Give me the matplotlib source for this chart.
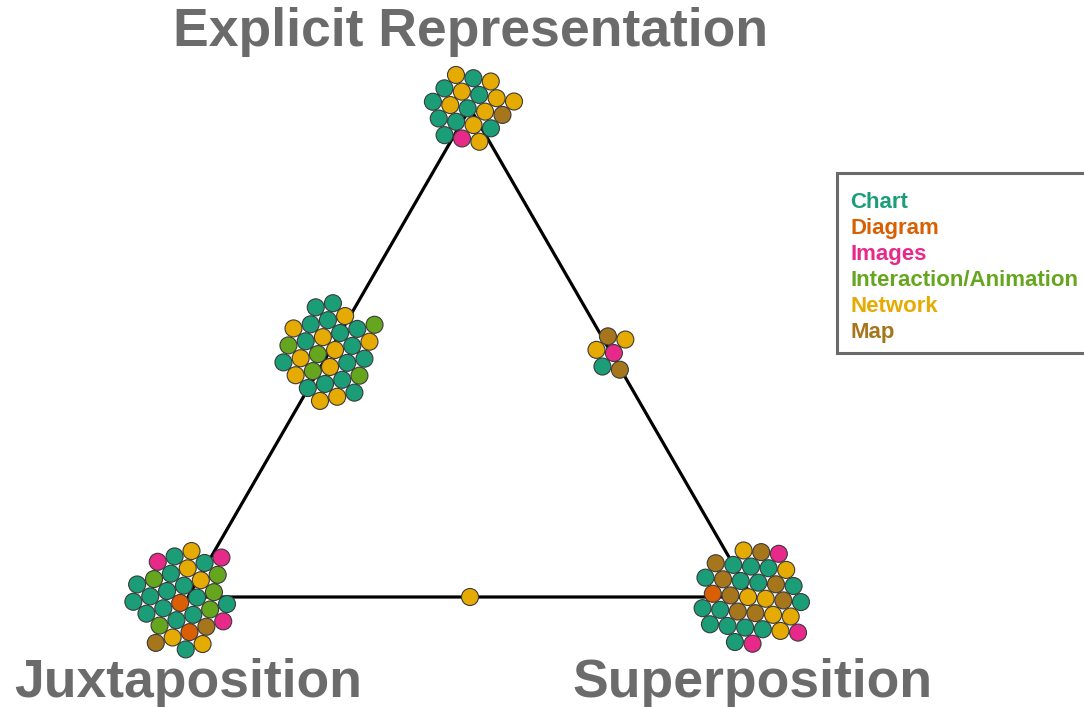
import numpy as np
import matplotlib
matplotlib.use("Agg")
import matplotlib.pyplot as plt
from matplotlib.patches import Circle, Rectangle

# ---------------- data ----------------
categories = ["Chart", "Diagram", "Images", "Interaction/Animation", "Network", "Map"]
codes = ["C", "D", "I", "A", "N", "M"]
colors = ["#1b9e77", "#d95f02", "#e7298a", "#66a61e", "#e6ab02", "#a6761d"]

corner_labels = ["Explicit Representation", "Juxtaposition", "Superposition"]

# papers per position, row by row (category codes)
explicit_rows = ["NCN", "CNCNN", "CNCNM", "CCNC", "CIN"]
explicit_juxta_rows = ["CC", "NCCN", "ACNCCA", "CNANCN", "NANCC", "CCCA", "NNC"]
explicit_super_rows = ["MN", "NI", "CM"]
juxta_super_rows = ["N"]
juxta_rows = ["ICN", "CACNCI", "CCCCNA", "CCDCA", "ACCAC", "MNDMI", "CN"]
super_rows = ["NMI", "MCCCN", "CMCCMC", "DMNNMC", "CCMMNN", "CCCCNI", "CI"]

# ---------------- layout ----------------
W, H = 1084, 707
fig = plt.figure(figsize=(W / 100, H / 100), dpi=100)
ax = fig.add_axes([0, 0, 1, 1])
ax.set_xlim(0, W)
ax.set_ylim(H, 0)
ax.axis("off")

V_top = np.array([470.0, 108.0])
V_left = np.array([188.0, 597.0])
V_right = np.array([752.0, 597.0])

tri = np.array([V_top, V_left, V_right, V_top])
ax.plot(tri[:, 0], tri[:, 1], color="black", lw=2.3, zorder=1, solid_capstyle="round")

cmap = dict(zip(codes, colors))
D = 17.7
R = 8.5


def draw_cluster(rows, center, theta, shift):
    h = D * np.sqrt(3) / 2
    pts = []
    par0 = (-(len(rows[0]) - 1) / 2) % 1
    for r, row in enumerate(rows):
        L = len(row)
        qs = np.arange(L) - (L - 1) / 2
        want = (par0 + 0.5 * r) % 1
        have = (-(L - 1) / 2) % 1
        if 0.25 < abs(want - have) < 0.75:
            qs = qs + 0.5 * shift
        for q, c in zip(qs, row):
            pts.append((q * D, r * h, c))
    arr = np.array([[p[0], p[1]] for p in pts])
    arr -= arr.mean(axis=0)
    t = np.deg2rad(theta)
    x = center[0] + arr[:, 0] * np.cos(t) - arr[:, 1] * np.sin(t)
    y = center[1] + arr[:, 0] * np.sin(t) + arr[:, 1] * np.cos(t)
    for xi, yi, p in zip(x, y, pts):
        ax.add_patch(Circle((xi, yi), R, facecolor=cmap[p[2]], edgecolor="#3a3a3a",
                            lw=0.8, zorder=3))


draw_cluster(explicit_rows, V_top, 10.7, +1)
draw_cluster(explicit_juxta_rows, (V_top + V_left) / 2, -13.5, -1)
draw_cluster(explicit_super_rows, (V_top + V_right) / 2, 10.3, -1)
draw_cluster(juxta_super_rows, (V_left + V_right) / 2, 0, -1)
draw_cluster(juxta_rows, V_left - np.array([5.0, -2.0]), -17.7, -1)
draw_cluster(super_rows, V_right, 5.4, -1)

# corner labels
lab_kw = dict(fontsize=38.5, fontweight="bold", color="#6b6b6b",
              family=["Liberation Sans", "DejaVu Sans"], ha="center", va="baseline")
ax.text(471, 46, corner_labels[0], **lab_kw)
ax.text(188, 697, corner_labels[1], **lab_kw)
ax.text(753, 697, corner_labels[2], **lab_kw)

# legend
ax.add_patch(Rectangle((837, 173), 270, 180, facecolor="white", edgecolor="#6a6a6a",
                       lw=2.2, zorder=4, clip_on=False))
for i, (cat, col) in enumerate(zip(categories, colors)):
    ax.text(850, 208 + 26 * i, cat, color=col, fontsize=16, fontweight="bold",
            family=["Liberation Sans", "DejaVu Sans"], ha="left", va="baseline", zorder=5)

fig.savefig("out.png", dpi=100)
